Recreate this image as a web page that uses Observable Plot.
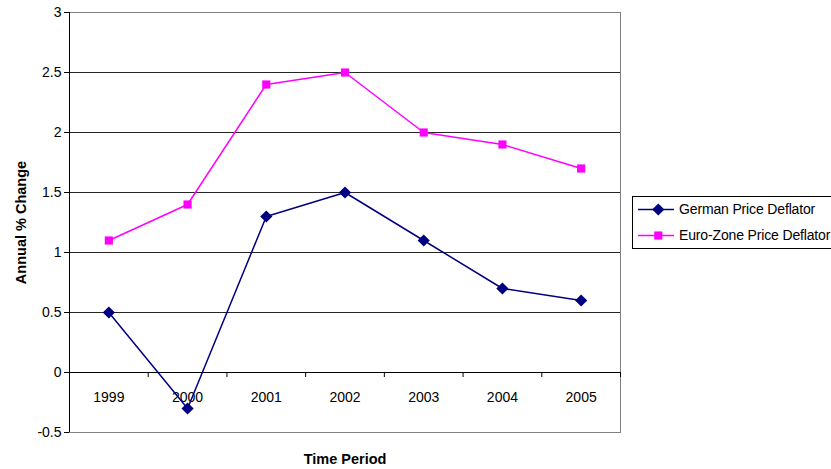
<!DOCTYPE html>
<html>
<head>
<meta charset="utf-8">
<script src="https://cdn.jsdelivr.net/npm/d3@7"></script>
<script src="https://cdn.jsdelivr.net/npm/@observablehq/plot@0.6"></script>
<style>
  html, body { margin: 0; padding: 0; background: #fff; overflow: hidden; }
  #wrap { position: relative; width: 831px; height: 469px; overflow: hidden; font-family: "Liberation Sans", Arial, sans-serif; }
  #legend { position: absolute; left: 632px; top: 196px; width: 210px; height: 53px; border: 1px solid #000; background: #fff; box-sizing: border-box; }
  .item { display: flex; align-items: center; height: 14px; margin-left: 5px; font-size: 14px; letter-spacing: -0.15px; white-space: nowrap; color: #000; }
  .item:first-child { margin-top: 5px; }
  .item + .item { margin-top: 12px; }
  .item svg { margin-right: 5px; flex: none; }
</style>
</head>
<body>
<div id="wrap"></div>
<script>
const years = [1999, 2000, 2001, 2002, 2003, 2004, 2005];
const german = [0.5, -0.3, 1.3, 1.5, 1.1, 0.7, 0.6];
const euro = [1.1, 1.4, 2.4, 2.5, 2.0, 1.9, 1.7];
const yTicks = [-0.5, 0, 0.5, 1, 1.5, 2, 2.5, 3];
const seriesNames = ["German Price Deflator", "Euro-Zone Price Deflator"];
const seriesColors = ["#000080", "#FF00FF"];
const seriesSymbols = ["diamond2", "square"];
const seriesR = [5.5, 4.6];

const xDomain = [years[0] - 0.5, years[years.length - 1] + 0.5];
const boundaries = years.map(y => y + 0.5);

const germanRows = years.map((yr, i) => ({year: yr, value: german[i]}));
const euroRows = years.map((yr, i) => ({year: yr, value: euro[i]}));

const chart = Plot.plot({
  width: 831,
  height: 469,
  marginLeft: 69,
  marginRight: 211,
  marginTop: 12,
  marginBottom: 37,
  style: {fontFamily: "Liberation Sans, Arial, sans-serif", fontSize: "14px", color: "#000", background: "#fff", overflow: "visible"},
  x: {domain: xDomain, axis: null},
  y: {domain: [yTicks[0], yTicks[yTicks.length - 1]], axis: null},
  marks: [
    Plot.gridY(yTicks, {stroke: "#000", strokeOpacity: 0.85}),
    Plot.frame({stroke: "#808080"}),
    Plot.ruleX([xDomain[0]], {stroke: "#000"}),
    Plot.ruleY([0], {stroke: "#000"}),
    Plot.ruleX(boundaries, {x: d => d, y1: 0, y2: 0, insetBottom: -5, stroke: "#000"}),
    Plot.axisY(yTicks, {tickSize: 5, tickPadding: 3, tickFormat: d => String(d), fontSize: 14, stroke: "#000", label: null}),
    Plot.text(years, {x: d => d, y: 0, dy: 25, text: d => String(d), fontSize: 14, letterSpacing: "-0.3px"}),
    Plot.line(germanRows, {x: "year", y: "value", stroke: seriesColors[0], strokeWidth: 1.5}),
    Plot.line(euroRows, {x: "year", y: "value", stroke: seriesColors[1], strokeWidth: 1.5}),
    Plot.dot(germanRows, {x: "year", y: "value", fill: seriesColors[0], symbol: seriesSymbols[0], r: seriesR[0]}),
    Plot.dot(euroRows, {x: "year", y: "value", fill: seriesColors[1], symbol: seriesSymbols[1], r: seriesR[1]}),
    Plot.text(["Time Period"], {frameAnchor: "bottom", dy: 31, fontWeight: "bold", fontSize: 14.5, letterSpacing: "-0.2px"}),
    Plot.text(["Annual % Change"], {frameAnchor: "left", textAnchor: "middle", dx: -48, rotate: -90, fontWeight: "bold", fontSize: 14.5, letterSpacing: "1.3px"})
  ]
});

const wrap = document.getElementById("wrap");
wrap.appendChild(chart);

const legend = document.createElement("div");
legend.id = "legend";
seriesNames.forEach((name, i) => {
  const item = document.createElement("div");
  item.className = "item";
  const sw = Plot.plot({
    width: 36, height: 14, margin: 0,
    x: {domain: [0, 1], axis: null},
    y: {domain: [0, 1], axis: null},
    style: {background: "transparent", overflow: "visible"},
    marks: [
      Plot.ruleY([0.5], {stroke: seriesColors[i], strokeWidth: 1.5}),
      Plot.dot([0.55], {x: d => d, y: 0.5, fill: seriesColors[i], symbol: seriesSymbols[i], r: seriesR[i]})
    ]
  });
  item.appendChild(sw);
  const t = document.createElement("span");
  t.textContent = name;
  item.appendChild(t);
  legend.appendChild(item);
});
wrap.appendChild(legend);
</script>
</body>
</html>
